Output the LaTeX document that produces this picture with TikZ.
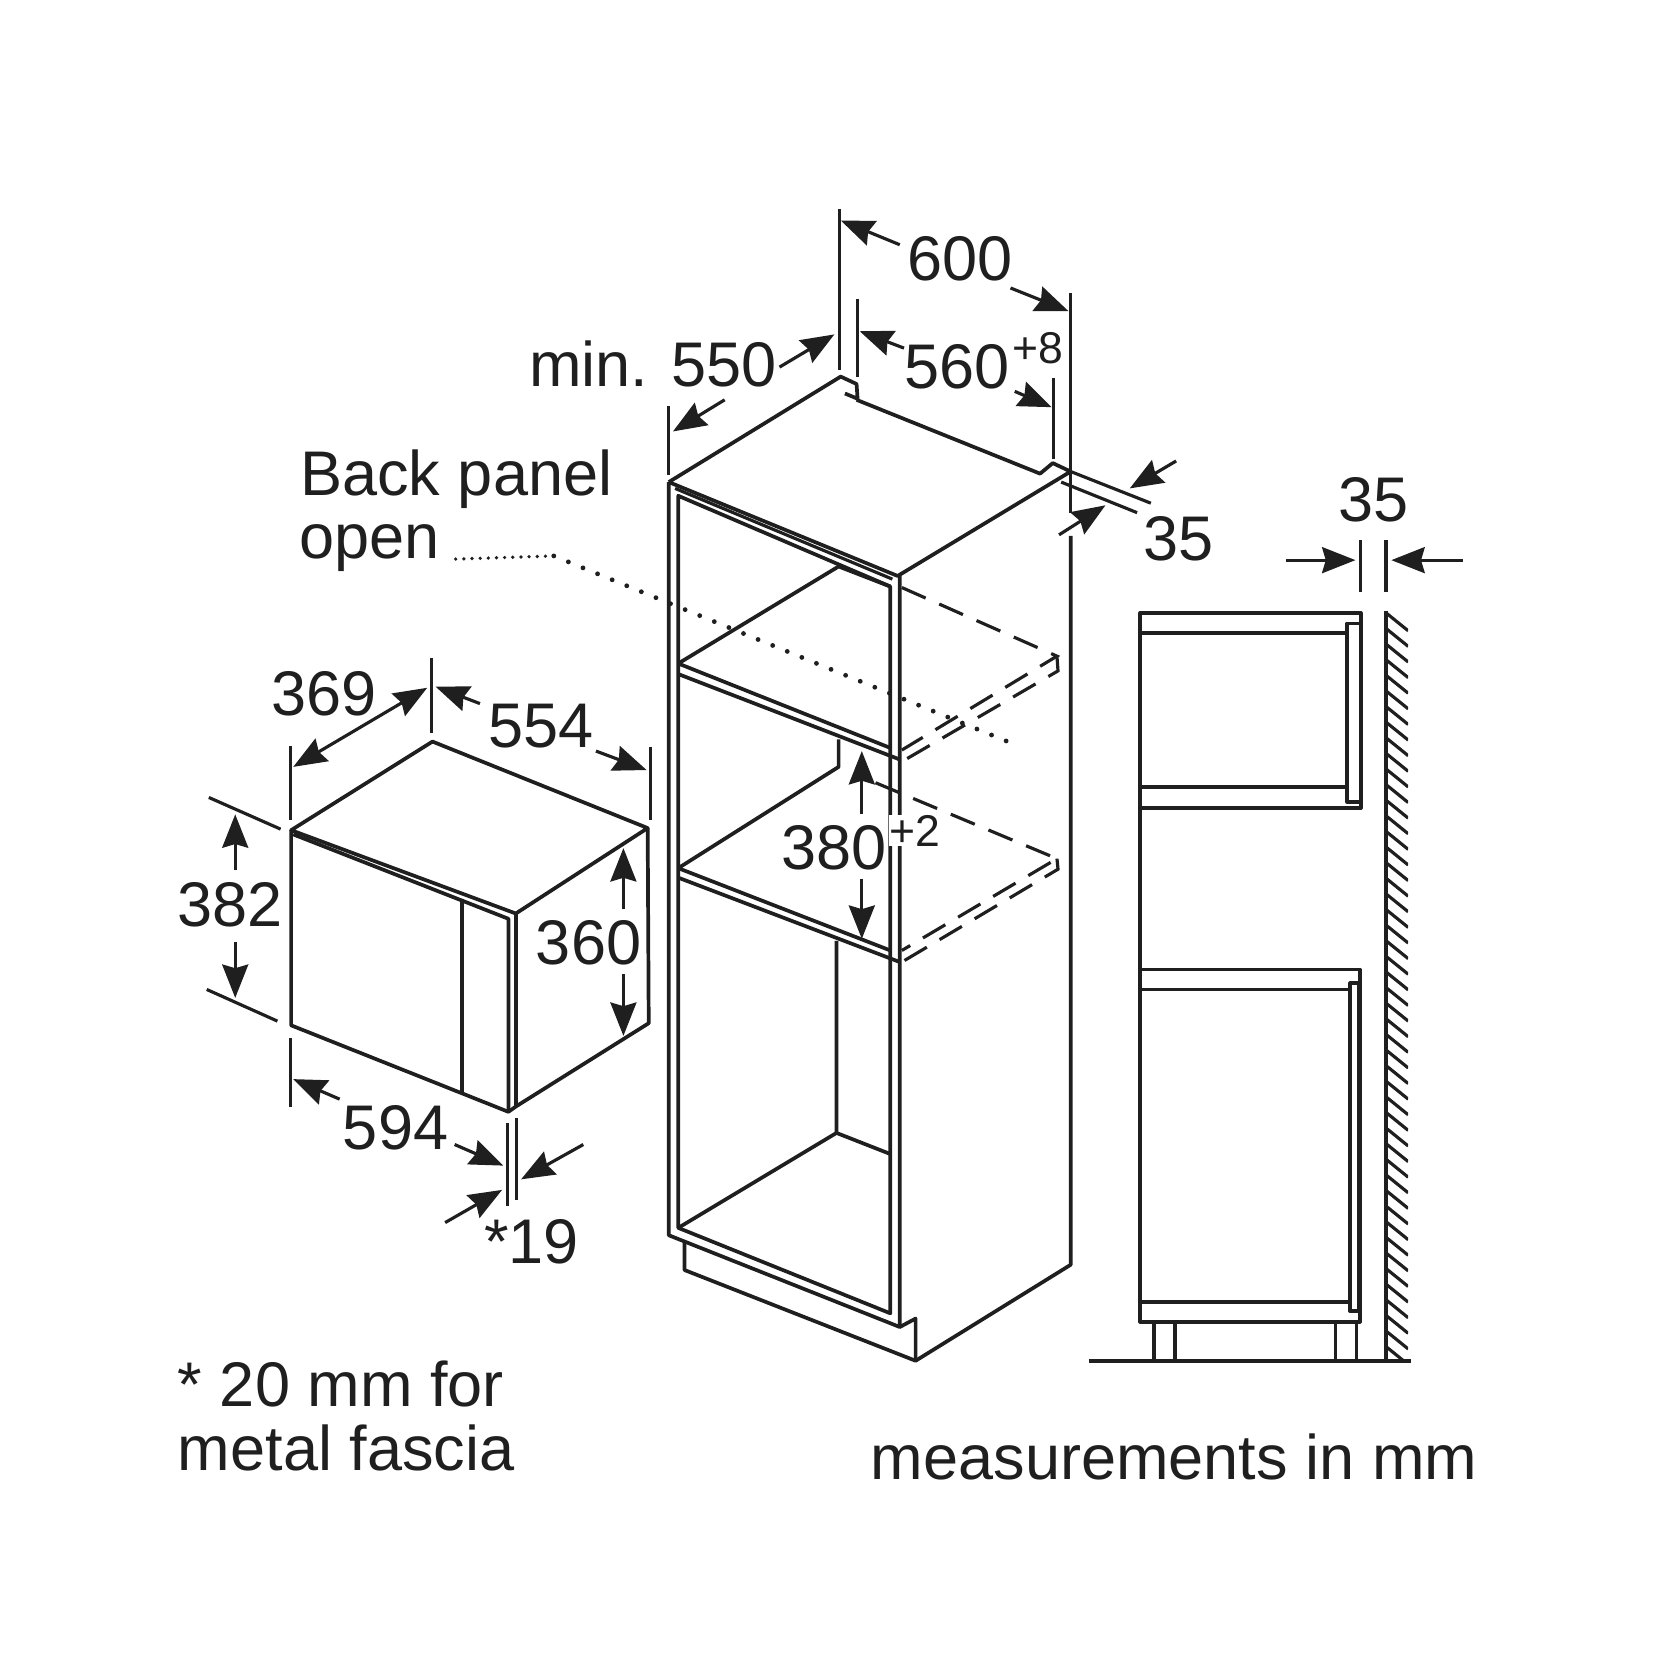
\documentclass[tikz,border=0pt]{standalone}
\usepackage{fontspec}
\setmainfont{Liberation Sans}
\usepackage{tikz}
\usetikzlibrary{arrows.meta}
\tikzset{>={Stealth[length=9pt,width=7pt,inset=1pt]}}
\tikzstyle{ln} = [draw=black!88, line width=1pt, line join=round]
\tikzstyle{thin ln} = [draw=black!88, line width=0.85pt]
\tikzstyle{dim} = [draw=black!88, line width=0.85pt, ->]
\tikzstyle{dash ln} = [draw=black!88, line width=0.85pt, dash pattern=on 7pt off 4pt]
\tikzstyle{dots} = [draw=black!88, line width=1.3pt, line cap=round]
\tikzstyle{lbl} = [draw=none, inner sep=0, anchor=base, text=black!88, font=\fontsize{17}{20}\selectfont]
\tikzstyle{lblw} = [lbl, anchor=base west]
\tikzstyle{sup} = [lbl, font=\fontsize{12}{14}\selectfont]

\begin{document}
\begin{tikzpicture}[x=0.01cm, y=-0.01cm]
\useasboundingbox (0,0) rectangle (1568,1568);

% microwave
\draw [ln] (276,787) -- (410,703) -- (614,785) -- (489,866) -- cycle;
\draw [ln] (276,787) -- (276,972) -- (482,1054) -- (489,1049) -- (615,970) -- (614,785);
\draw [ln] (278,791) -- (482,871) -- (482,1054);
\draw [ln] (489,866) -- (489,1049);
\draw [ln] (438,852) -- (438,1036);

% microwave dimensions
\draw [thin ln] (275,707) -- (275,777);
\draw [thin ln] (409,624) -- (409,695);
\draw [thin ln] (617,708) -- (617,777);
\draw [thin ln] (198,756) -- (266,786);
\draw [thin ln] (196,938) -- (263,968);
\draw [thin ln] (275,984) -- (275,1049);
\draw [thin ln] (481,1065) -- (481,1143);
\draw [thin ln] (490,1060) -- (490,1138);
\draw [dim, <->] (278,727) -- (405,652);
\draw [dim] (455,667) -- (413,651);
\draw [dim] (565,712) -- (613,730);
\draw [dim] (223,825) -- (223,772);
\draw [dim] (223,893) -- (223,946);
\draw [dim] (591,862) -- (591,804);
\draw [dim] (591,923) -- (591,982);
\draw [dim] (322,1042) -- (278,1023);
\draw [dim] (431,1085) -- (477,1105);
\draw [dim] (553,1085) -- (494,1118);
\draw [dim] (422,1159) -- (476,1128);
\node [lbl] (w369) at (307,678) {369};
\node [lbl] (w554) at (513,709) {554};
\node [lbl] (h382) at (218,878) {382};
\node [lbl] (h360) at (558,914) {360};
\node [lbl] (w594) at (375,1090) {594};
\node [lbl] (d19) at (504,1198) {*19};

% cabinet top
\draw [ln] (634,457) -- (797,357) -- (812,364) -- (813,378) -- (801,373);
\draw [ln] (812,379) -- (986,449) -- (998,439) -- (1015,447) -- (851,546) -- (634,457);
\draw [ln] (634,457) -- (634,1171) -- (853,1258) -- (853,546);
\draw [ln] (643,470) -- (643,1164) -- (844,1245) -- (844,556) -- cycle;
\draw [thin ln] (640,463) -- (846,549);
% shelves
\draw [ln] (643,629) -- (844,709);
\draw [ln] (643,639) -- (853,720);
\draw [ln] (643,823) -- (844,901);
\draw [ln] (643,832) -- (853,912);
% back of the openings
\draw [ln] (643,629) -- (795,537) -- (844,556);
\draw [ln] (643,823) -- (795,727) -- (795,701);
\draw [ln] (793,892) -- (793,1074) -- (643,1164);
\draw [ln] (793,1074) -- (844,1094);
% plinth and side
\draw [ln] (649,1177) -- (649,1204) -- (868,1290) -- (868,1250) -- (853,1258);
\draw [ln] (868,1290) -- (1015,1199) -- (1015,508);
\draw [thin ln] (1015,278) -- (1015,486);
% removed panels
\draw [dash ln] (855,557) -- (1002,622) -- (855,711);
\draw [dash ln] (1002,622) -- (1003,636) -- (855,722);
\draw [dash ln] (830,742) -- (1002,814) -- (855,901);
\draw [dash ln] (1002,814) -- (1003,824) -- (855,912);
\draw [dots, line width=1pt, dash pattern=on 0pt off 2.2pt] (432,530) -- (525,527);
\draw [dots, dash pattern=on 0pt off 4.25pt] (525,527) -- (965,707);

% cabinet dimensions
\draw [thin ln] (796,198) -- (796,351);
\draw [thin ln] (813,283) -- (813,357);
\draw [thin ln] (999,358) -- (999,435);
\draw [thin ln] (634,385) -- (634,450);
\draw [thin ln] (1015,447) -- (1091,477);
\draw [thin ln] (1006,457) -- (1078,486);
\draw [dim] (853,232) -- (797,209);
\draw [dim] (958,273) -- (1013,295);
\draw [dim] (739,348) -- (791,317);
\draw [dim] (687,379) -- (638,409);
\draw [dim] (857,330) -- (815,314);
\draw [dim] (962,371) -- (997,386);
\draw [dim] (1115,437) -- (1071,463);
\draw [dim] (1004,507) -- (1048,479);
\draw [dim] (817,772) -- (817,712);
\draw [dim] (817,833) -- (817,890);
\node [lbl] (w600) at (910,266) {600};
\node [lbl] (d550) at (619,366) {min. 550};
\node [lbl] (w560) at (907,368) {560};
\node [sup] (w560p) at (984,345) {+8};
\node [lbl] (t35) at (1117,531) {35};
\node [lbl] (h380) at (791,824) {380};
\node [lbl, fill=white] (h380p) at (867,802) {\fontsize{12}{14}\selectfont +2};
\node [lblw] (back1) at (284,470) {Back panel};
\node [lblw] (back2) at (283,529) {open};

% side view
\draw [ln] (1081,766) -- (1081,581) -- (1290,581) -- (1290,766) -- cycle;
\draw [ln] (1081,600) -- (1277,600);
\draw [ln] (1081,746) -- (1277,746);
\draw [ln] (1277,591) rectangle (1290,760);
\draw [ln] (1081,766) -- (1081,1253) -- (1289,1253) -- (1289,919) -- (1081,919);
\draw [ln] (1081,938) -- (1280,938);
\draw [ln] (1081,1234) -- (1280,1234);
\draw [ln] (1280,932) rectangle (1288,1243);
\draw [ln] (1094,1253) -- (1094,1290);
\draw [ln] (1114,1253) -- (1114,1290);
\draw [ln] (1266,1253) -- (1266,1290);
\draw [ln] (1286,1253) -- (1286,1290);
\draw [ln] (1032,1290) -- (1338,1290);
\draw [ln] (1314,579) -- (1314,1290);
\begin{scope}
\clip (1314,579) rectangle (1335,1290);
\foreach \y in {581,595.8,...,1290}
  \draw [thin ln] (1314,\y) -- (1335,\y+17);
\end{scope}
\draw [thin ln] (1290,512) -- (1290,561);
\draw [thin ln] (1314,512) -- (1314,561);
\draw [dim] (1219,531) -- (1285,531);
\draw [dim] (1387,531) -- (1319,531);
\node [lbl] (s35) at (1302,494) {35};

% notes
\node [lblw] (note1) at (168,1333) {* 20 mm for};
\node [lblw] (note2) at (168,1394) {metal fascia};
\node [lblw] (units) at (825,1403) {measurements in mm};
\end{tikzpicture}
\end{document}
